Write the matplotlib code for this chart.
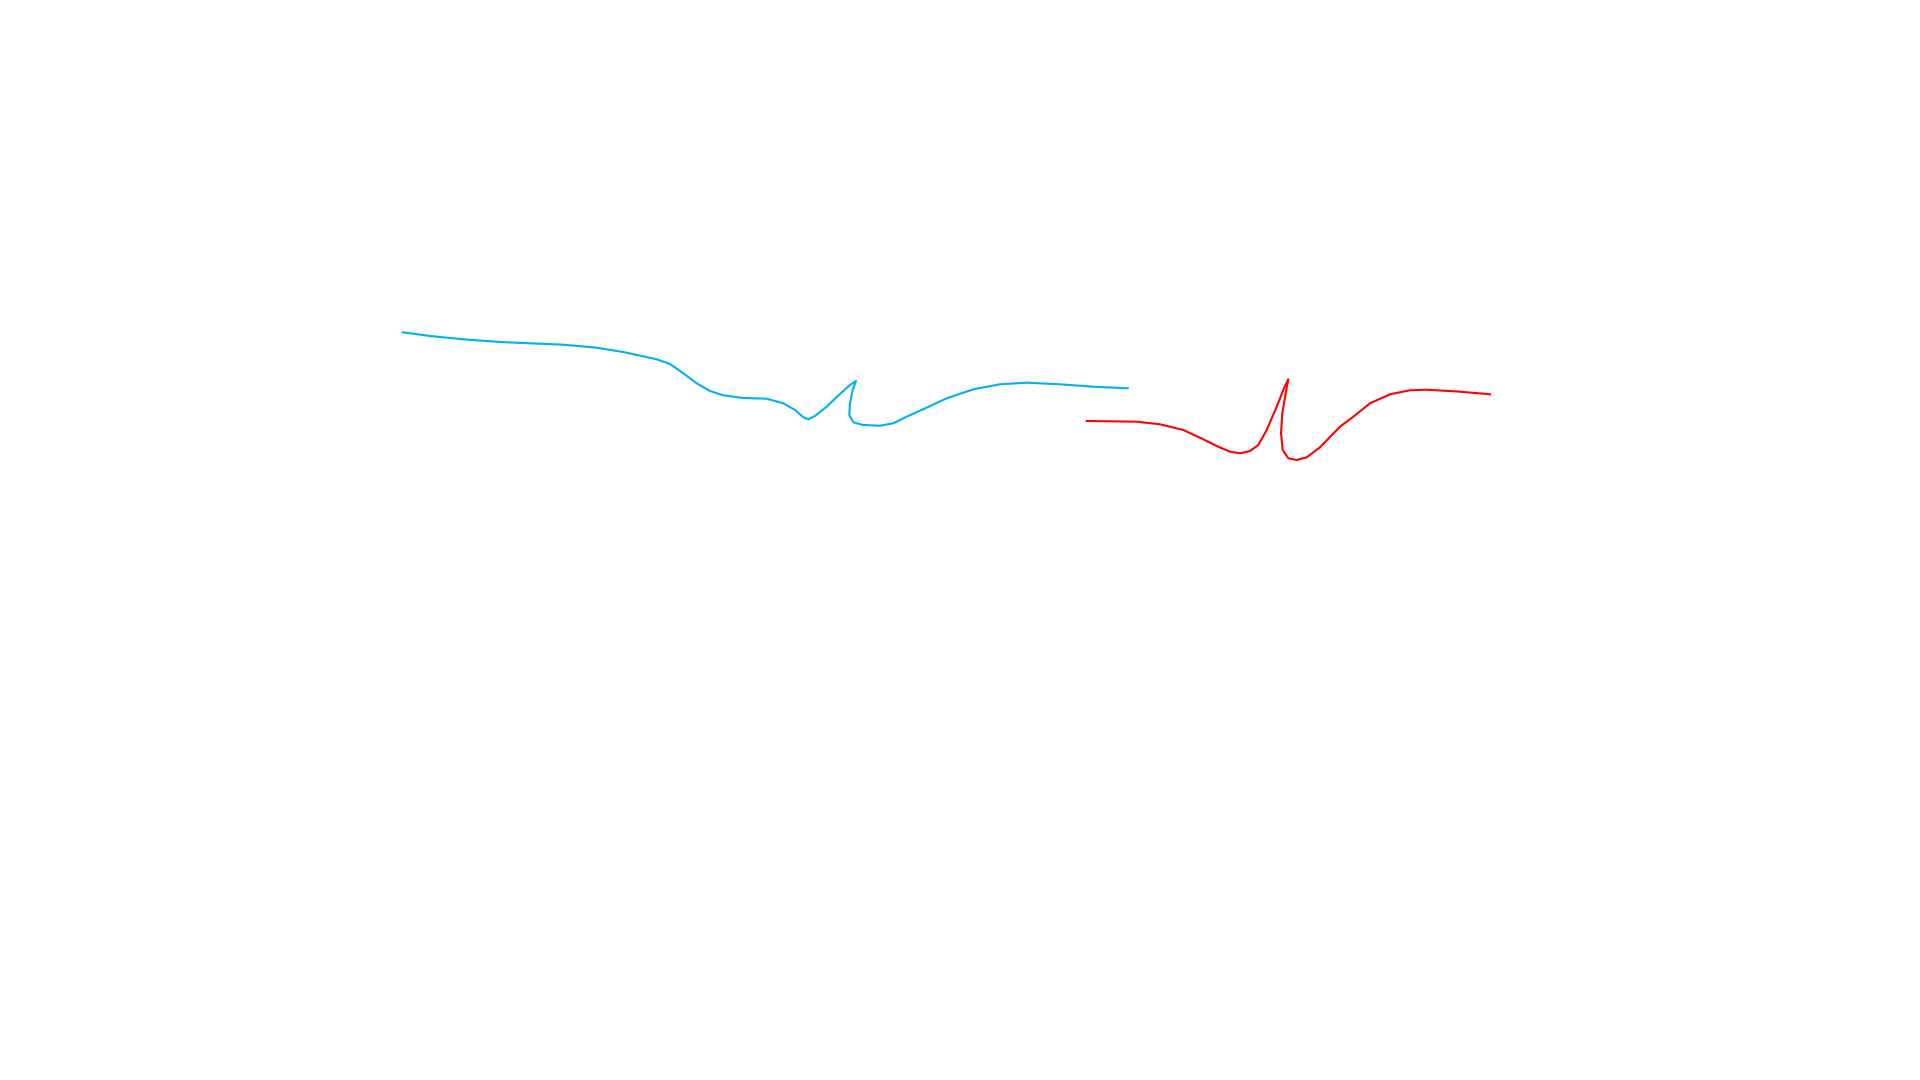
import matplotlib
matplotlib.use("Agg")
import matplotlib.pyplot as plt

# blue curve (x, y)
blue_x = [402.7, 430, 463.3, 500, 530, 563.3, 596.7, 623.3, 656.7, 670, 683.3, 696.7,
          710, 723.3, 743.3, 766.7, 783.3, 795, 803.3, 808.3, 815, 826.7, 840, 850,
          856, 852.7, 850, 849.3, 853.3, 863.3, 880, 893.3, 906.7, 920, 946.7, 973.3,
          1000, 1026.7, 1060, 1093.3, 1127.7]
blue_y = [332.3, 336, 339.3, 342, 343.3, 344.7, 347.7, 352, 359.3, 364, 373.3, 383.3,
          391, 395.3, 398, 398.7, 403.3, 410, 417.3, 419.3, 416, 406.7, 394, 385,
          381, 390, 403.3, 415, 422.3, 425, 425.7, 423.3, 416.7, 410.7, 398.3, 389.3,
          384.3, 382.7, 384.3, 386.7, 388.3]

# red curve
red_x = [1086.7, 1136.7, 1160, 1183.3, 1203.3, 1216.7, 1230, 1240, 1250, 1258.3, 1266.7,
         1276.7, 1284, 1288.3, 1285.7, 1282.3, 1281, 1282.7, 1288.3, 1296.7, 1306.7,
         1320, 1340, 1353.3, 1370, 1390, 1410, 1426.7, 1460, 1490]
red_y = [421, 421.7, 424.3, 430, 439.3, 446, 451.7, 453.3, 451, 445, 430,
         406.7, 388.3, 379.3, 393.3, 413.3, 433.3, 450, 458.3, 460, 457.3,
         447.3, 426.7, 416.7, 403.3, 394.3, 390.3, 389.7, 391.7, 394.3]

fig = plt.figure(figsize=(19.2, 10.8), dpi=100)
ax = fig.add_axes([0, 0, 1, 1])
ax.plot(blue_x, blue_y, c='#00B0F0', lw=1.5, solid_joinstyle='round')
ax.plot(red_x, red_y, c='#FF0000', lw=1.5, solid_joinstyle='round')
ax.set_xlim(0, 1920)
ax.set_ylim(1080, 0)
ax.axis('off')
fig.savefig("out.png", dpi=100)
